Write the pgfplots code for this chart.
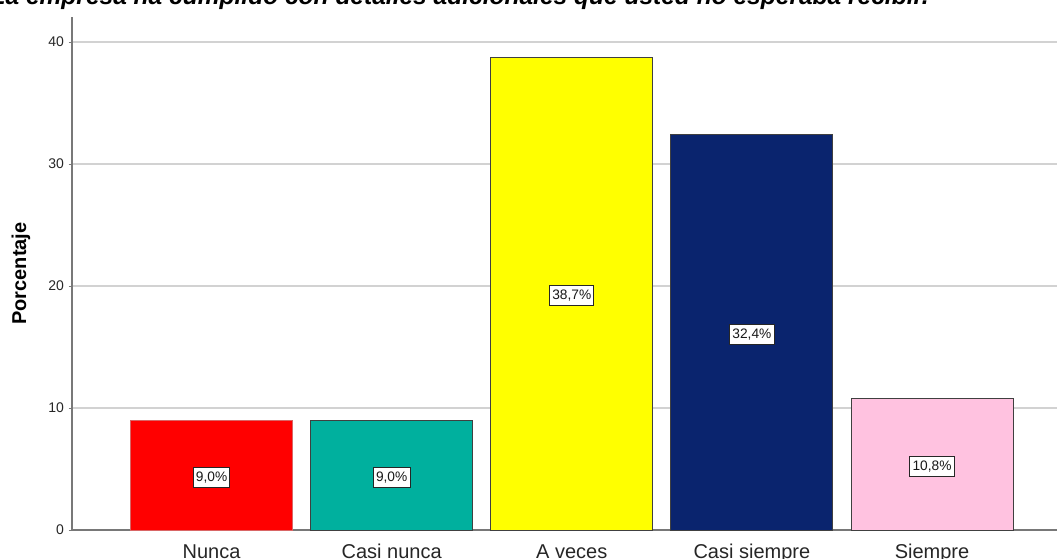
\documentclass[border=0pt]{standalone}
\usepackage{pgfplots}
\pgfplotsset{compat=1.18}
\usepackage{fontspec}
\setmainfont{Liberation Sans}
\definecolor{cRed}{RGB}{255,0,0}
\definecolor{cTeal}{RGB}{0,176,158}
\definecolor{cYellow}{RGB}{255,255,0}
\definecolor{cNavy}{RGB}{10,36,110}
\definecolor{cPink}{RGB}{255,194,224}
\definecolor{cGrid}{RGB}{210,210,210}
\definecolor{cAxis}{RGB}{120,120,120}
\begin{document}
\begin{tikzpicture}
\useasboundingbox (0,0) rectangle (793.5pt,418.5pt);
\clip (0,0) rectangle (793.5pt,418.5pt);
\begin{axis}[
  at={(54pt,21pt)}, anchor=south west,
  scale only axis, width=738.75pt, height=384.75pt,
  xmin=-0.775, xmax=4.694, ymin=0, ymax=42.05,
  axis x line*=bottom, axis y line*=left,
  axis line style={cAxis, line width=0.9pt},
  ytick={0,10,20,30,40},
  ymajorgrids, grid style={cGrid, line width=1.1pt},
  tick align=outside, major tick length=2.5pt,
  ytick style={cAxis, line width=0.75pt},
  xtick={0,1,2,3,4}, xtick style={draw=none},
  xticklabels={Nunca,Casi nunca,A veces,Casi siempre,Siempre},
  xticklabel style={font=\fontsize{15pt}{15pt}\selectfont, text=black!85, anchor=base, yshift=-19pt},
  /pgf/number format/assume math mode=true,
  yticklabel style={font=\fontsize{10.5pt}{10.5pt}\selectfont, text=black!85},
  ylabel={\bfseries Porcentaje},
  every axis y label/.style={at={(axis description cs:-0.0518,0.5)}, anchor=center, rotate=90, font=\fontsize{15pt}{15pt}\selectfont},
  clip=false,
]
\addplot[ybar, bar width=121.5pt, fill=cRed, draw=cRed!75!black!60, line width=0.75pt] coordinates {(0,9.0)};
\addplot[ybar, bar width=121.5pt, fill=cTeal, draw=black!75, line width=0.75pt] coordinates {(1,9.0)};
\addplot[ybar, bar width=121.5pt, fill=cYellow, draw=black!75, line width=0.75pt] coordinates {(2,38.7)};
\addplot[ybar, bar width=121.5pt, fill=cNavy, draw=black!75, line width=0.75pt] coordinates {(3,32.4)};
\addplot[ybar, bar width=121.5pt, fill=cPink, draw=black!75, line width=0.75pt] coordinates {(4,10.8)};
\addplot[only marks, mark=none, point meta=explicit symbolic,
  nodes near coords,
  every node near coord/.style={anchor=center, fill=white, draw=black!85, line width=0.75pt,
    inner xsep=2pt, inner ysep=3.2pt, font=\fontsize{10.3pt}{10.3pt}\selectfont, text=black!90, yshift=-1.5pt}]
  coordinates {(0,4.5)[9,0\%] (1,4.5)[9,0\%] (2,19.35)[38,7\%] (3,16.2)[32,4\%] (4,5.4)[10,8\%]};
\end{axis}
\node[anchor=base east, font=\fontsize{18.4pt}{18.4pt}\selectfont\bfseries\itshape] at (700pt,414.75pt)
  {La empresa ha cumplido con detalles adicionales que usted no esperaba recibir.};
\end{tikzpicture}
\end{document}
